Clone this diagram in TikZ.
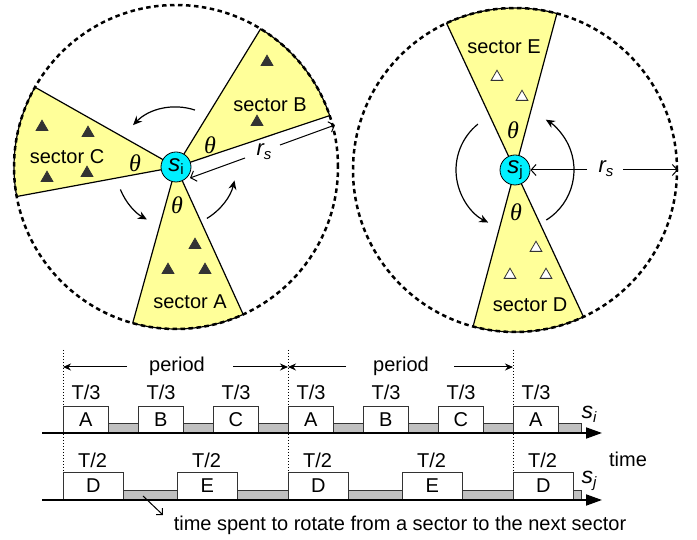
\documentclass[tikz,border=0pt]{standalone}
\usepackage{fontspec}
\setmainfont{Liberation Sans}
\newfontfamily\greekserif{Liberation Serif}
\usetikzlibrary{arrows.meta,shapes.geometric,calc}

\definecolor{sectorfill}{RGB}{255,255,153}
\definecolor{nodecyan}{RGB}{0,240,255}
\definecolor{idlegray}{RGB}{192,192,192}
\definecolor{triedge}{RGB}{51,51,51}

\tikzset{
  lbl/.style={font=\fontsize{20}{24}\selectfont, inner sep=0pt},
  angl/.style={font=\fontsize{24}{26}\selectfont\greekserif\itshape, inner sep=0pt},
  sectorwedge/.style={fill=sectorfill, draw=black, line width=1.2pt, line join=round},
  rangecircle/.style={draw=black, line width=2.5pt, dash pattern=on 4.5pt off 3.5pt},
  sensor/.style={circle, fill=nodecyan, draw=black, line width=0.8pt, minimum size=30pt, inner sep=0pt},
  target/.style={regular polygon, regular polygon sides=3, minimum size=13.5pt, inner sep=0pt, draw=triedge, line width=0.8pt},
  fulltri/.style={target, fill=triedge},
  emptytri/.style={target, fill=white},
  rotarrow/.style={line width=1.2pt, -{Stealth[length=9pt,width=8pt]}},
  radiusarrow/.style={line width=1pt, -{Straight Barb[length=5pt,width=11pt]}},
  slotbox/.style={draw=black!80, line width=0.8pt, fill=white, anchor=south west, inner sep=0pt, font=\fontsize{20}{24}\selectfont},
  idlebar/.style={draw=black!80, line width=0.8pt, fill=idlegray},
  timeaxis/.style={line width=1.8pt, -{Triangle[length=16pt,width=11pt]}},
  periodmark/.style={dotted, line width=1pt},
  periodarrow/.style={line width=1pt, -{Stealth[length=8pt,width=7pt]}},
  notearrow/.style={line width=1pt, -{Straight Barb[length=4.5pt,width=9pt]}},
}

\begin{document}
\begin{tikzpicture}[x=1pt,y=1pt]
\useasboundingbox (0,0) rectangle (697,540);

% ---------------- sensor s_i with three sectors ----------------
\coordinate (ci) at (176,373);
\draw[sectorwedge] (ci) -- ($(ci)+(18.5:162pt)$) arc[start angle=18.5, end angle=58.5, radius=162pt] -- cycle;
\draw[sectorwedge] (ci) -- ($(ci)+(150.5:162pt)$) arc[start angle=150.5, end angle=190.5, radius=162pt] -- cycle;
\draw[sectorwedge] (ci) -- ($(ci)+(254.5:162pt)$) arc[start angle=254.5, end angle=294.5, radius=162pt] -- cycle;
\draw[rangecircle] (ci) circle[radius=162pt];

\node[lbl] (secB) at (270,435) {sector B};
\node[lbl] (secC) at (67,383) {sector C};
\node[lbl] (secA) at (190,238) {sector A};

\node[fulltri] (tb1) at (267,478) {};
\node[fulltri] (tb2) at (257,418) {};
\node[fulltri] (tc1) at (42,413) {};
\node[fulltri] (tc2) at (88,407) {};
\node[fulltri] (tc3) at (47,362) {};
\node[fulltri] (tc4) at (87,367) {};
\node[fulltri] (ta1) at (195,295) {};
\node[fulltri] (ta2) at (168,270) {};
\node[fulltri] (ta3) at (205,270) {};

\node[angl] (thB) at (210,395) {θ};
\node[angl] (thC) at (135,377) {θ};
\node[angl] (thA) at (177,335) {θ};

\draw[rotarrow] ($(ci)+(71.6:60pt)$) arc[start angle=71.6, end angle=135.7, radius=60pt];
\draw[rotarrow] ($(ci)+(202:60pt)$) arc[start angle=202, end angle=241, radius=60pt];
\draw[rotarrow] ($(ci)+(301:60pt)$) arc[start angle=301, end angle=347, radius=60pt];

\coordinate (rsiA) at (190,362);
\coordinate (rsiL) at (245,382);
\coordinate (rsiR) at (280,395);
\coordinate (rsiB) at (335,415);
\draw[radiusarrow] (rsiL) -- (rsiA);
\draw[radiusarrow] (rsiR) -- (rsiB);
\node[lbl, font=\fontsize{22}{24}\selectfont] (rsi) at (264,388) {\itshape r\raisebox{-4pt}{\fontsize{15}{15}\selectfont s}};

\node[sensor] (si) at (ci) {\fontsize{24}{24}\selectfont\itshape s\raisebox{-3pt}{\fontsize{15}{15}\selectfont\upshape i}};

% ---------------- sensor s_j with two sectors ----------------
\coordinate (cj) at (515,370);
\draw[sectorwedge] (cj) -- ($(cj)+(75:162pt)$) arc[start angle=75, end angle=115, radius=162pt] -- cycle;
\draw[sectorwedge] (cj) -- ($(cj)+(255:162pt)$) arc[start angle=255, end angle=295, radius=162pt] -- cycle;
\draw[rangecircle] (cj) circle[radius=162pt];

\node[lbl] (secE) at (504,493) {sector E};
\node[lbl] (secD) at (530,235) {sector D};

\node[emptytri] (te1) at (497,463) {};
\node[emptytri] (te2) at (522,443) {};
\node[emptytri] (td1) at (536,292) {};
\node[emptytri] (td2) at (510,265) {};
\node[emptytri] (td3) at (546,265) {};

\node[angl] (thE) at (513,410) {θ};
\node[angl] (thD) at (516,328) {θ};

\draw[rotarrow] ($(cj)+(129:59pt)$) arc[start angle=129, end angle=243, radius=59pt];
\draw[rotarrow] ($(cj)+(-58:59pt)$) arc[start angle=-58, end angle=58.5, radius=59pt];

\node[sensor] (sj) at (cj) {\fontsize{24}{24}\selectfont\itshape s\raisebox{-3pt}{\fontsize{15}{15}\selectfont\upshape j}};

\coordinate (rsjL) at (587,370);
\coordinate (rsjR) at (623,370);
\coordinate (rsjB) at (678,370);
\draw[radiusarrow] (rsjL) -- (sj.east);
\draw[radiusarrow] (rsjR) -- (rsjB);
\node[lbl, font=\fontsize{22}{24}\selectfont] (rsj) at (606,371) {\itshape r\raisebox{-4pt}{\fontsize{15}{15}\selectfont s}};

% ---------------- timing diagram ----------------
% period boundaries
\coordinate (m1t) at (63,190);  \coordinate (m1b) at (63,67);
\coordinate (m2t) at (288,190); \coordinate (m2b) at (288,67);
\coordinate (m3t) at (513,190); \coordinate (m3b) at (513,67);
\draw[periodmark] (m1t) -- (m1b);
\draw[periodmark] (m2t) -- (m2b);
\draw[periodmark] (m3t) -- (m3b);

\node[lbl] (per1) at (177,174) {period};
\node[lbl] (per2) at (401,174) {period};
\coordinate (p1l) at (127,173); \coordinate (p1r) at (233,173);
\coordinate (p2l) at (346,173); \coordinate (p2r) at (454,173);
\coordinate (q1) at (63,173); \coordinate (q2) at (288,173); \coordinate (q3) at (513,173);
\draw[periodarrow] (p1l) -- (q1);
\draw[periodarrow] (p1r) -- (q2);
\draw[periodarrow] (p2l) -- (q2);
\draw[periodarrow] (p2r) -- (q3);

% schedule of s_i
\draw[idlebar] (63,107) rectangle (581,117);
\foreach \x/\s [count=\k] in {63/A,138/B,213/C,288/A,363/B,438/C,513/A} {
  \node[slotbox, minimum width=45pt, minimum height=26pt] (ri\k) at (\x,107) {\s};
  \node[lbl] (ti\k) at (\x+23,148) {T/3};
}
\coordinate (axiL) at (42,107); \coordinate (axiR) at (602,107);
\draw[timeaxis] (axiL) -- (axiR);
\node[lbl, font=\fontsize{23}{24}\selectfont] (lsi) at (589,126) {\itshape s\raisebox{-4pt}{\fontsize{15}{15}\selectfont i}};

% schedule of s_j
\draw[idlebar] (63,40) rectangle (581,50);
\foreach \x/\s [count=\k] in {63/D,177/E,288/D,402/E,513/D} {
  \node[slotbox, minimum width=60pt, minimum height=27pt] (rj\k) at (\x,40) {\s};
  \node[lbl] (tj\k) at (\x+29.5,80) {T/2};
}
\coordinate (axjL) at (42,40); \coordinate (axjR) at (602,40);
\draw[timeaxis] (axjL) -- (axjR);
\node[lbl, font=\fontsize{23}{24}\selectfont] (lsj) at (589,59) {\itshape s\raisebox{-4pt}{\fontsize{15}{15}\selectfont j}};

\node[lbl] (time) at (628,81) {time};

% note on the idle gaps
\coordinate (nA) at (143,44);
\coordinate (nB) at (163,25);
\draw[notearrow] (nA) -- (nB);
\node[lbl] (note) at (400,15) {time spent to rotate from a sector to the next sector};

\end{tikzpicture}
\end{document}
